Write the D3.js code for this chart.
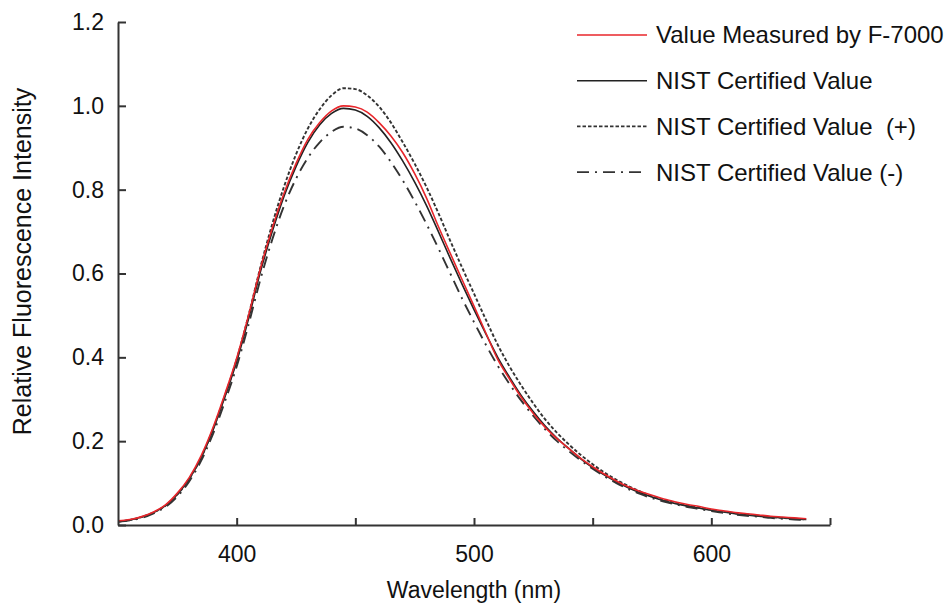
<!DOCTYPE html>
<html>
<head>
<meta charset="utf-8">
<script src="https://cdn.jsdelivr.net/npm/d3@7"></script>
<style>
    body { margin: 0; background: #fff; }
    svg text { font-family: "Liberation Sans", Arial, sans-serif; fill: #111; }
</style>
</head>
<body>
<svg id="spectrum_chart"></svg>
<script>
// wavelength (nm), 5 nm steps
const wavelengths = [350, 355, 360, 365, 370, 375, 380, 385, 390, 395, 400, 405, 410, 415, 420, 425, 430, 435, 440, 445,
    450, 455, 460, 465, 470, 475, 480, 485, 490, 495, 500, 505, 510, 515, 520, 525, 530, 535, 540, 545,
    550, 555, 560, 565, 570, 575, 580, 585, 590, 595, 600, 605, 610, 615, 620, 625, 630, 635, 640];

const measuredF7000 = [0.010, 0.013, 0.020, 0.031, 0.048, 0.076, 0.113, 0.165, 0.232, 0.312, 0.398, 0.500, 0.612, 0.708, 0.792, 0.862, 0.920, 0.960, 0.988, 1.000,
    0.997, 0.985, 0.960, 0.928, 0.888, 0.838, 0.780, 0.712, 0.648, 0.585, 0.522, 0.458, 0.395, 0.348, 0.304, 0.266, 0.233, 0.206, 0.182, 0.159,
    0.139, 0.121, 0.105, 0.091, 0.080, 0.071, 0.062, 0.055, 0.049, 0.044, 0.038, 0.034, 0.030, 0.027, 0.024, 0.021, 0.019, 0.017, 0.015];

const nistCertified = [0.008, 0.012, 0.019, 0.030, 0.046, 0.073, 0.110, 0.160, 0.226, 0.305, 0.390, 0.492, 0.604, 0.700, 0.785, 0.855, 0.913, 0.955, 0.982, 0.994,
    0.990, 0.975, 0.948, 0.912, 0.868, 0.818, 0.762, 0.700, 0.636, 0.574, 0.514, 0.456, 0.400, 0.352, 0.308, 0.270, 0.236, 0.207, 0.182, 0.158,
    0.137, 0.119, 0.103, 0.089, 0.077, 0.067, 0.058, 0.051, 0.045, 0.040, 0.035, 0.031, 0.027, 0.024, 0.021, 0.019, 0.017, 0.015, 0.013];

const nistPlus = [0.008, 0.012, 0.019, 0.030, 0.046, 0.073, 0.110, 0.160, 0.228, 0.308, 0.395, 0.500, 0.615, 0.718, 0.808, 0.884, 0.946, 0.992, 1.025, 1.042,
    1.040, 1.025, 0.998, 0.960, 0.913, 0.862, 0.806, 0.744, 0.678, 0.614, 0.552, 0.490, 0.430, 0.378, 0.332, 0.290, 0.252, 0.220, 0.192, 0.167,
    0.145, 0.125, 0.108, 0.093, 0.080, 0.069, 0.060, 0.053, 0.046, 0.041, 0.036, 0.032, 0.028, 0.025, 0.022, 0.019, 0.017, 0.015, 0.013];

const nistMinus = [0.008, 0.011, 0.017, 0.028, 0.043, 0.068, 0.104, 0.153, 0.217, 0.294, 0.378, 0.478, 0.586, 0.681, 0.762, 0.826, 0.876, 0.913, 0.938, 0.950,
    0.946, 0.930, 0.903, 0.866, 0.822, 0.772, 0.718, 0.660, 0.600, 0.540, 0.484, 0.430, 0.380, 0.336, 0.296, 0.260, 0.228, 0.200, 0.176, 0.154,
    0.134, 0.116, 0.100, 0.086, 0.074, 0.064, 0.056, 0.049, 0.043, 0.038, 0.033, 0.029, 0.025, 0.022, 0.020, 0.017, 0.015, 0.013, 0.011];

const xTickValues = [400, 450, 500, 550, 600, 650];
const xTickLabels = ["400", "", "500", "", "600", ""];
const yTickValues = [0, 0.2, 0.4, 0.6, 0.8, 1.0, 1.2];
const legendLabels = ["Value Measured by F-7000", "NIST Certified Value", "NIST Certified Value  (+)", "NIST Certified Value (-)"];

function drawSpectrumChart() {
    const margin = {
        top: 22,
        right: 117,
        bottom: 78,
        left: 118
    },
        width = 947 - margin.left - margin.right,
        height = 603 - margin.top - margin.bottom;

    const svg = d3.select("#spectrum_chart")
        .attr("width", 947)
        .attr("height", 603);
    const chart = svg.append("g")
        .attr("transform", `translate(${margin.left},${margin.top})`);

    const x = d3.scaleLinear().domain([350, 650]).range([0, width]);
    const y = d3.scaleLinear().domain([0, 1.2]).range([height, 0]);

    const series = [
        { name: legendLabels[1], values: nistCertified, color: "#222", dash: null, w: 1.6 },
        { name: legendLabels[2], values: nistPlus, color: "#333", dash: "3.5,2", w: 1.9 },
        { name: legendLabels[3], values: nistMinus, color: "#333", dash: "12,6,2,6", w: 1.9 },
        { name: legendLabels[0], values: measuredF7000, color: "#e8262b", dash: null, w: 1.6 }
    ];

    const line = d3.line()
        .x((d, i) => x(wavelengths[i]))
        .y(d => y(d))
        .curve(d3.curveMonotoneX);

    chart.append("g").attr("class", "curves")
        .selectAll("path")
        .data(series)
        .join("path")
        .attr("d", d => line(d.values))
        .attr("fill", "none")
        .attr("stroke", d => d.color)
        .attr("stroke-width", d => d.w)
        .attr("stroke-dasharray", d => d.dash);

    const gx = chart.append("g")
        .attr("transform", `translate(0, ${height})`)
        .call(d3.axisBottom(x)
            .tickValues(xTickValues)
            .tickFormat((d, i) => xTickLabels[i])
            .tickSize(-7)
            .tickSizeOuter(0)
            .tickPadding(21));
    const gy = chart.append("g")
        .call(d3.axisLeft(y)
            .tickValues(yTickValues)
            .tickFormat(d3.format(".1f"))
            .tickSize(-8)
            .tickSizeOuter(0)
            .tickPadding(14));

    [gx, gy].forEach(g => {
        g.select(".domain").attr("stroke", "#333").attr("stroke-width", 2);
        g.selectAll(".tick line").attr("stroke", "#333").attr("stroke-width", 2);
        g.selectAll(".tick text").attr("font-size", "23px").attr("fill", "#111");
    });

    svg.append("text")
        .attr("x", margin.left + x(500))
        .attr("y", 598)
        .attr("text-anchor", "middle")
        .attr("font-size", "23px")
        .text("Wavelength (nm)");

    svg.append("text")
        .attr("transform", `translate(31, ${margin.top + height / 2 - 12}) rotate(-90)`)
        .attr("text-anchor", "middle")
        .attr("font-size", "25px")
        .text("Relative Fluorescence Intensity");

    // legend, same order as the reference
    const legendOrder = [series[3], series[0], series[1], series[2]];
    const legend = svg.append("g").attr("class", "legend")
        .selectAll("g")
        .data(legendOrder)
        .join("g")
        .attr("transform", (d, i) => `translate(577, ${35 + i * 45.7})`);
    legend.append("line")
        .attr("x1", 0).attr("x2", 70)
        .attr("stroke", d => d.color)
        .attr("stroke-width", d => d.w)
        .attr("stroke-dasharray", d => d.dash);
    legend.append("text")
        .attr("x", 79)
        .attr("dy", "0.35em")
        .attr("font-size", "24px")
        .style("white-space", "pre")
        .text(d => d.name);
}

drawSpectrumChart();
</script>
</body>
</html>
